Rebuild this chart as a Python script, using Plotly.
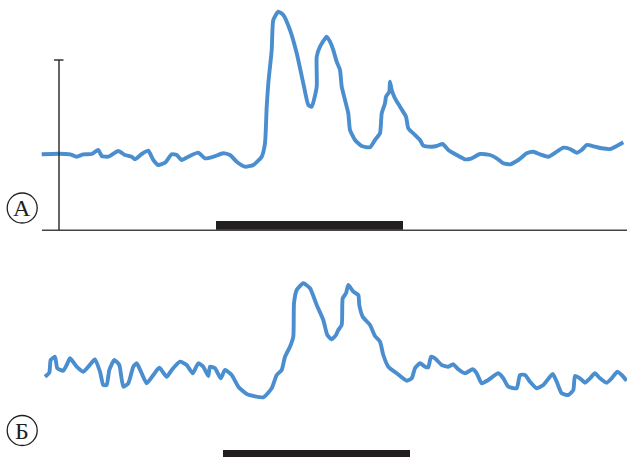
import plotly.graph_objects as go

# Trace A (upper): time position, signal height above baseline
a_t = [41.7, 58.3, 70, 76.7, 83.3, 91.7, 98.3, 101.7, 108.3, 118.3, 125, 131.7, 135, 141.7, 148.3,
       153.3, 158.3, 165, 171.7, 176.7, 181.7, 188.3, 198.3, 205, 213.3, 223.3, 230, 236.7, 245,
       253.3, 261.7, 265, 266.7, 268.3, 271.7, 273.3, 278.3, 283.3, 290, 296.7, 303.3, 308.3,
       311.7, 316.7, 316.7, 320, 326.7, 330, 333.3, 336.7, 340, 341.7, 345, 348.3, 350, 355,
       361.7, 370, 375, 380, 381.7, 385, 386, 389.3, 390, 391.7, 395, 400, 406, 408.3, 415, 420,
       423.3, 431.7, 436.7, 442.7, 448.3, 456.7, 465, 471.7, 480, 490, 496.7, 503.3, 510, 518.3,
       526.7, 533.3, 540, 548.3, 556.7, 563.3, 570, 576.7, 581.7, 586.7, 595, 601.7, 610, 616.7,
       623.3]
a_py = [154.3, 153.7, 154.3, 156.7, 154.3, 154, 150, 156, 156.7, 151, 155, 156.7, 159.3, 154, 150.7,
        160, 165, 162.7, 154.3, 155, 160, 156.7, 152.7, 158.3, 156.7, 153.3, 155, 161.7, 166.7,
        165, 156.7, 143.3, 106.7, 83.3, 50, 20, 11.7, 15, 30, 53.3, 83.3, 105,
        106.7, 86.7, 56.7, 46.7, 36.7, 41.7, 50, 61.7, 70, 86.7, 100, 113.3, 130, 140,
        146, 147.3, 140, 133.3, 113.3, 103.3, 96.7, 91.7, 81.7, 90, 98.3, 106.7, 116.7, 128.3, 135, 140,
        145.7, 146.7, 146, 144, 150, 155, 159.3, 158.3, 154, 155, 158.3, 163.3, 164.3, 160,
        153.3, 151.7, 154.3, 156.7, 151.7, 147.7, 149, 152.7, 150, 145, 146.7, 148.3, 149, 146,
        142.3]
a_val = [231 - v for v in a_py]

# Trace Б (lower)
b_t = [45, 49.3, 50.7, 55, 57.3, 63.3, 66.7, 70, 76.7, 83.3, 88.3, 95, 100, 103.3, 106.7, 109.3,
       114.3, 119.3, 123.3, 128.3, 133.3, 136.7, 141.7, 146.7, 153.3, 159.3, 166.7, 171.7, 180,
       186.7, 192.7, 198.3, 203.3, 208.3, 210, 215, 220.7, 225, 231.7, 238.3, 246.7, 263.3,
       271.7, 276.7, 281.7, 285, 290, 293.3, 294, 296.7, 303.3, 310, 316.7, 323.3, 327.3,
       331.7, 336, 338.3, 341.7, 342.7, 346, 348.3, 353.3, 358.3, 359.3, 362.7, 370, 375, 380,
       383.3, 388.3, 396.7, 406.7, 411.7, 415, 420, 425, 428.3, 431, 435, 441.7, 448.3, 453.3,
       458.3, 465, 472.7, 476.7, 481.7, 488.3, 498.3, 503.3, 508.3, 516.7, 520, 525, 530, 536.7,
       543.3, 552.7, 556.7, 561.7, 568.3, 573.3, 575, 580, 585, 590, 595, 600, 606.7, 611.7,
       617.3, 621.7, 626.7]
b_py = [376.7, 372.7, 360, 356.7, 368.3, 370.7, 365, 358.3, 366.7, 371.7, 366.7, 359.3, 371.7, 385, 385, 370,
        360, 365, 386.7, 383.3, 366.7, 363.3, 373.3, 383.3, 375, 367.7, 376.7, 370, 361.7,
        365, 373.3, 363.3, 366.7, 376, 366.7, 368.3, 378.3, 370, 375, 386.7, 394, 397.3,
        388.3, 375, 370, 356.7, 346.7, 336.7, 303.3, 290, 283.3, 288.3, 305, 320, 335,
        339.3, 335, 330, 325, 298.3, 293.3, 285, 291.7, 295, 305, 316.7, 325, 336, 341.7,
        355, 366.7, 373.3, 380.7, 378.3, 368.3, 363.3, 366.7, 367.3, 356.7, 358.3, 365, 366.7, 364.3,
        369.3, 373.3, 369.3, 373.3, 383.3, 380, 373.3, 378.3, 386.7, 388.3, 375, 375, 381.7, 388.3,
        385, 374, 381.7, 393.3, 395, 390, 376, 378.3, 382.7, 378.3, 373.3, 378.3, 382.7, 378.3,
        371.7, 375, 380.7]
b_val = [457 - v for v in b_py]

stim_a = [216, 403]
stim_b = [223, 410]
labels = ["А", "Б"]

W, H = 627, 457
split = 226 / H  # paper fraction of lower panel
blue = "#4a8ecf"
dark = "#231f20"

fig = go.Figure()
fig.add_trace(go.Scatter(x=a_t, y=a_val, mode="lines", xaxis="x", yaxis="y",
                         line=dict(color=blue, width=3.9, shape="spline", smoothing=0.5),
                         hoverinfo="skip", showlegend=False))
fig.add_trace(go.Scatter(x=b_t, y=b_val, mode="lines", xaxis="x", yaxis="y2",
                         line=dict(color=blue, width=3.9, shape="spline", smoothing=0.5),
                         hoverinfo="skip", showlegend=False))

shapes = [
    # baseline + vertical scale of panel A
    dict(type="line", xref="x", yref="y", x0=42, x1=627, y0=0.6, y1=0.6,
         line=dict(color="#444", width=1.6)),
    dict(type="line", xref="x", yref="y", x0=59, x1=59, y0=0.6, y1=171,
         line=dict(color="#333", width=1.5)),
    dict(type="line", xref="x", yref="y", x0=54, x1=63.5, y0=171, y1=171,
         line=dict(color="#333", width=1.5)),
    # stimulus bars
    dict(type="rect", xref="x", yref="y", x0=stim_a[0], x1=stim_a[1], y0=1.2, y1=10,
         fillcolor=dark, line=dict(width=0)),
    dict(type="rect", xref="x", yref="y2", x0=stim_b[0], x1=stim_b[1], y0=0, y1=7,
         fillcolor=dark, line=dict(width=0)),
    # label circles
    dict(type="circle", xref="x", yref="y", x0=7.2, x1=37.2, y0=8, y1=38,
         line=dict(color="#231f20", width=1.3)),
    dict(type="circle", xref="x", yref="y2", x0=7.2, x1=37.2, y0=11.5, y1=41.5,
         line=dict(color="#231f20", width=1.3)),
]

annotations = [
    dict(x=22.2, y=23, xref="x", yref="y", text=labels[0], showarrow=False,
         font=dict(family="Liberation Serif", size=24, color="#231f20"),
         xanchor="center", yanchor="middle"),
    dict(x=22.2, y=26.5, xref="x", yref="y2", text=labels[1], showarrow=False,
         font=dict(family="Liberation Serif", size=24, color="#231f20"),
         xanchor="center", yanchor="middle"),
]

fig.update_layout(
    width=W, height=H,
    margin=dict(l=0, r=0, t=0, b=0),
    paper_bgcolor="white", plot_bgcolor="white",
    xaxis=dict(range=[0, W], visible=False, fixedrange=True),
    yaxis=dict(domain=[split, 1], range=[0, 231], visible=False, fixedrange=True),
    yaxis2=dict(domain=[0, split], range=[0, 226], visible=False, fixedrange=True),
    shapes=shapes, annotations=annotations,
    showlegend=False,
)

fig.write_html("out.html", config={"displayModeBar": False})
